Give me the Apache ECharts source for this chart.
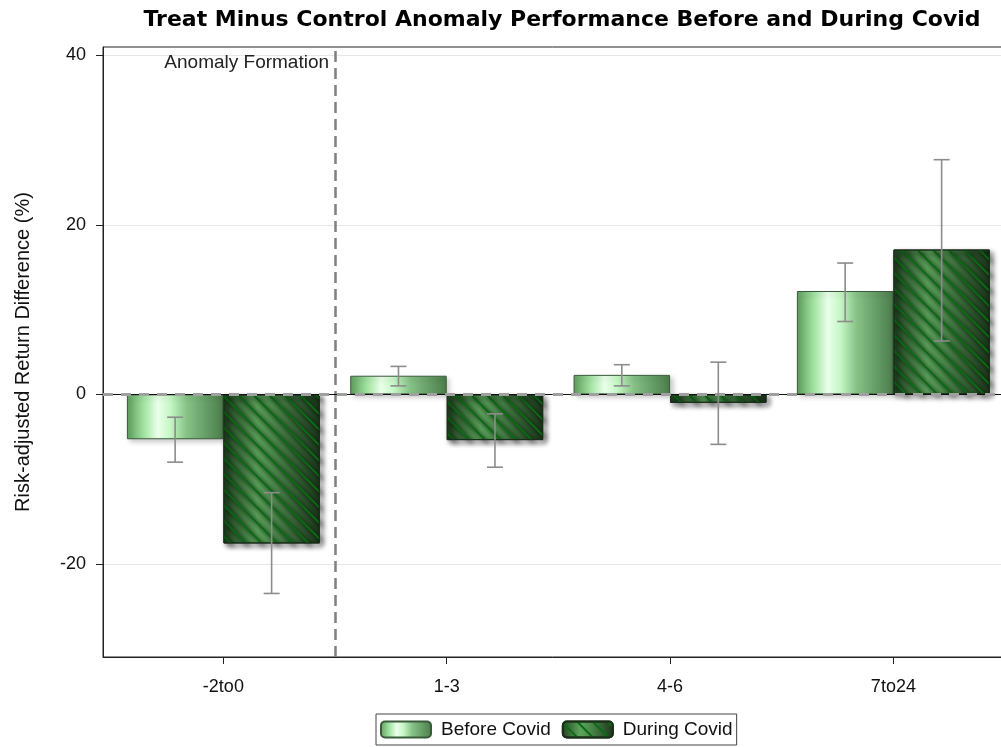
<!DOCTYPE html>
<html>
<head>
<meta charset="utf-8">
<script src="https://cdn.jsdelivr.net/npm/echarts@6/dist/echarts.min.js"></script>
<style>html,body{margin:0;padding:0;background:#fff;}#c{width:1001px;height:747px;}</style>
</head>
<body>
<div id="c"></div>
<script>
const categories = ['-2to0', '1-3', '4-6', '7to24'];
const seriesNames = ['Before Covid', 'During Covid'];
const beforeValues = [-5.3, 2.2, 2.3, 12.2];
const beforeLow = [-8.0, 1.0, 1.0, 8.6];
const beforeHigh = [-2.7, 3.3, 3.5, 15.5];
const duringValues = [-17.6, -5.4, -1.0, 17.1];
const duringLow = [-23.5, -8.6, -5.9, 6.3];
const duringHigh = [-11.6, -2.3, 3.8, 27.7];
const yTicks = [-20, 0, 20, 40];
const dividerPos = 0.5;
const dividerLabel = 'Anomaly Formation';

const FONT = '"Liberation Sans", Arial, sans-serif';
const chart = echarts.init(document.getElementById('c'));

const catGapFrac = 0.136;

const beforeFill = new echarts.graphic.LinearGradient(0, 0, 1, 0, [
  {offset: 0, color: '#5e9e5e'},
  {offset: 0.18, color: '#a2e4a2'},
  {offset: 0.32, color: '#eaffea'},
  {offset: 0.45, color: '#c6f7c6'},
  {offset: 0.62, color: '#86c286'},
  {offset: 1, color: '#4a7c4a'}
]);
const duringFill = new echarts.graphic.LinearGradient(0, 0, 1, 0, [
  {offset: 0, color: '#1f421f'},
  {offset: 0.35, color: '#5ca45c'},
  {offset: 0.5, color: '#509250'},
  {offset: 1, color: '#1b361b'}
]);

const errData = [];
categories.forEach((c, i) => {
  errData.push([i, beforeLow[i], beforeHigh[i], -1]);
  errData.push([i, duringLow[i], duringHigh[i], 1]);
});

function errRender(params, api) {
  const x = api.value(0), lo = api.value(1), hi = api.value(2), side = api.value(3);
  const band = api.size([1, 0])[0];
  const off = side * band * (1 - catGapFrac) / 4;
  const pLo = api.coord([x, lo]);
  const pHi = api.coord([x, hi]);
  const cx = pLo[0] + off;
  const cap = 8;
  const st = {stroke: '#8c8c8c', lineWidth: 1.6};
  return {
    type: 'group',
    children: [
      {type: 'line', shape: {x1: cx, y1: pLo[1], x2: cx, y2: pHi[1]}, style: st},
      {type: 'line', shape: {x1: cx - cap, y1: pLo[1], x2: cx + cap, y2: pLo[1]}, style: st},
      {type: 'line', shape: {x1: cx - cap, y1: pHi[1], x2: cx + cap, y2: pHi[1]}, style: st}
    ]
  };
}

function labelRender(params, api) {
  const p = api.coord([api.value(0), api.value(1)]);
  return {
    type: 'text',
    x: p[0] - 6, y: p[1] + 6,
    style: {text: dividerLabel, align: 'right', verticalAlign: 'top', font: '19px ' + FONT, fill: '#222'}
  };
}

const shadow = {shadowBlur: 5, shadowColor: 'rgba(0,0,0,0.2)', shadowOffsetX: 3, shadowOffsetY: 3};

chart.setOption({
  animation: false,
  backgroundColor: '#fff',
  title: {
    text: 'Treat Minus Control Anomaly Performance Before and During Covid',
    left: 557, top: 4, textAlign: 'center',
    textStyle: {fontFamily: '"DejaVu Sans", sans-serif', fontSize: 22, fontWeight: 'bold', color: '#000'}
  },
  grid: {
    left: 103, top: 47, width: 911, height: 610,
    outerBoundsMode: 'none', containLabel: false,
    show: true, borderColor: '#222', borderWidth: 1, backgroundColor: 'transparent'
  },
  legend: {
    data: seriesNames,
    bottom: 2, left: 376,
    itemWidth: 50, itemHeight: 16, itemGap: 11,
    padding: [6, 4, 6, 4],
    borderColor: '#444', borderWidth: 1,
    textStyle: {fontFamily: FONT, fontSize: 19, color: '#111', padding: [0, 0, 0, 5]}
  },
  xAxis: {
    type: 'value',
    min: -0.539, max: 3.54,
    axisLine: {show: true, onZero: false, lineStyle: {color: '#222', width: 1}},
    axisTick: {show: true, customValues: [0, 1, 2, 3], length: 7, lineStyle: {color: '#222'}},
    axisLabel: {
      customValues: [0, 1, 2, 3], margin: 21,
      formatter: v => categories[Math.round(v)],
      fontFamily: FONT, fontSize: 18, color: '#111'
    },
    splitLine: {show: false}
  },
  yAxis: {
    type: 'value',
    min: -31, max: 41,
    name: 'Risk-adjusted Return Difference (%)',
    nameLocation: 'middle', nameGap: 70,
    nameTextStyle: {fontFamily: FONT, fontSize: 20, color: '#111'},
    axisLine: {show: true, onZero: false, lineStyle: {color: '#222', width: 1}},
    axisTick: {show: true, customValues: yTicks, length: 7, lineStyle: {color: '#222'}},
    axisLabel: {customValues: yTicks, margin: 17, fontFamily: FONT, fontSize: 18, color: '#111'},
    splitLine: {show: true, lineStyle: {color: '#e6e6e6', width: 1}}
  },
  series: [
    {
      name: seriesNames[0], type: 'bar',
      data: beforeValues.map((v, i) => [i, v]),
      barGap: '0%', barCategoryGap: (catGapFrac * 100) + '%',
      itemStyle: Object.assign({color: beforeFill, borderColor: '#3b5a3b', borderWidth: 1}, shadow),
      z: 2
    },
    {
      name: seriesNames[1], type: 'bar',
      data: duringValues.map((v, i) => [i, v]),
      itemStyle: Object.assign({
        color: duringFill, borderColor: '#1a2e1a', borderWidth: 1,
        decal: {
          symbol: 'rect', color: '#0b6a14',
          dashArrayX: [1, 0], dashArrayY: [1.4, 8.5],
          rotation: Math.PI / 4
        }
      }, shadow),
      z: 2
    },
    {
      type: 'custom', renderItem: errRender, data: errData, z: 7, silent: true,
      encode: {x: 0, y: [1, 2]}
    },
    {
      type: 'custom', renderItem: labelRender, data: [[dividerPos, 41]], z: 6, silent: true,
      encode: {x: 0, y: 1},
      markLine: {
        silent: true, symbol: 'none', z: 6,
        label: {show: false},
        data: [
          {xAxis: dividerPos, lineStyle: {color: '#808080', width: 2.5, type: [11, 6]}},
          {yAxis: 0, lineStyle: {color: '#111', width: 1, type: 'solid'}},
          {yAxis: 0, lineStyle: {color: '#a0a0a0', width: 3, type: [10, 8]}}
        ]
      }
    }
  ]
});
</script>
</body>
</html>
